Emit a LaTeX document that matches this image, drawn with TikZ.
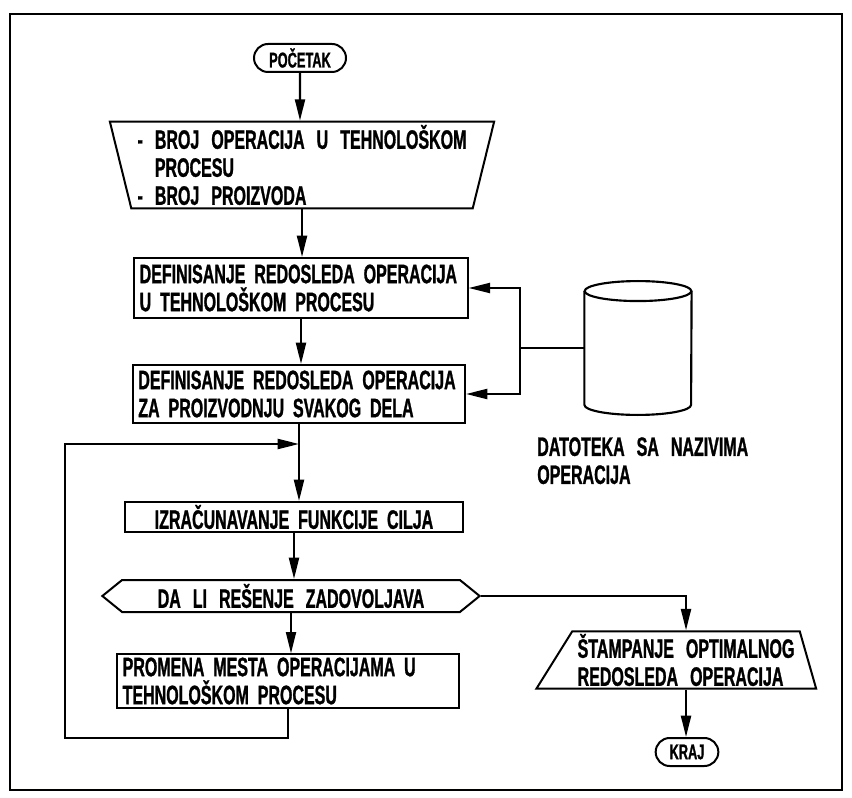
\documentclass[tikz,border=0pt]{standalone}
\usepackage{fontspec}
\setmainfont{Liberation Sans}[FakeStretch=0.6,WordSpace=2.7,FakeBold=1]
\usepackage{tikz}
\usetikzlibrary{positioning,arrows.meta,calc,shapes.geometric,shapes.misc,shapes.symbols}
\tikzset{
  wire/.style={line width=1.6pt},
  arr/.style={wire,-{Triangle[length=16pt,width=7.5pt]}},
  box/.style={draw,line width=1.5pt,font=\bfseries\fontsize{20}{21}\selectfont,
    inner xsep=4pt,inner ysep=2pt},
  procbox/.style={box,rectangle,align=left},
  termbox/.style={box,rounded rectangle,font=\bfseries\fontsize{16}{16}\selectfont,
    minimum height=21pt},
}
\begin{document}
\begin{tikzpicture}[x=0.75pt,y=-0.75pt]
  \useasboundingbox (0,0) rectangle (852,798);

  % frame
  \draw[line width=2.2pt] (10,14) rectangle (842,790);

  % main column
  \node[termbox,minimum width=77pt] (start) at (300,58) {POČETAK};
  \node[box,trapezium,shape border rotate=180,trapezium angle=76,
    trapezium stretches=true,minimum width=289pt,minimum height=65pt,align=left]
    (input) at (302,165)
    {- BROJ OPERACIJA U TEHNOLOŠKOM\\\hphantom{-}\ PROCESU\\- BROJ PROIZVODA};
  \node[procbox,text width=242pt,minimum height=45pt] (def1) at (301,288)
    {DEFINISANJE REDOSLEDA OPERACIJA\\U TEHNOLOŠKOM PROCESU};
  \node[procbox,text width=241pt,minimum height=43.5pt] (def2) at (299,394)
    {DEFINISANJE REDOSLEDA OPERACIJA\\ZA PROIZVODNJU SVAKOG DELA};
  \node[box,rectangle,text width=245pt,align=center,minimum height=22.5pt] (izr)
    at (294,517) {IZRAČUNAVANJE FUNKCIJE CILJA};
  \node[box,signal,signal to=west and east,signal pointer angle=78,
    minimum width=283pt,minimum height=24pt] (dec) at (291,596)
    {DA LI REŠENJE ZADOVOLJAVA};
  \node[procbox,text width=248pt,minimum height=40pt] (prom) at (288,681)
    {PROMENA MESTA OPERACIJAMA U\\TEHNOLOŠKOM PROCESU};

  % right branch
  \node[box,trapezium,trapezium left angle=58,trapezium right angle=74,
    trapezium stretches=true,minimum width=186pt,minimum height=40pt,align=left]
    (stamp) at (686,660) {ŠTAMPANJE OPTIMALNOG\\REDOSLEDA OPERACIJA};
  \node[termbox,minimum width=55pt] (kraj) at (687,752) {KRAJ};

  % data file
  \node[rectangle,minimum width=80pt,minimum height=100pt,inner sep=0pt] (db)
    at (638,348) {};
  \draw[wire] ($(db.north)+(0,10)$) ellipse [x radius=40pt,y radius=7.5pt];
  \draw[wire] ($(db.north west)+(0,10)$) -- ($(db.south west)+(0,-10)$)
    arc[start angle=180,end angle=360,x radius=40pt,y radius=7.5pt]
    -- ($(db.north east)+(0,10)$);
  \node[font=\bfseries\fontsize{20}{21}\selectfont,align=left,anchor=north west,
    inner sep=0pt] (dblabel) at (537,437) {DATOTEKA SA NAZIVIMA\\OPERACIJA};
  \coordinate (bus) at (520,348);

  % connectors
  \draw[arr] (start) -- (start |- input.north);
  \draw[arr] (input.south) -- (input.south |- def1.north);
  \draw[arr] (def1.south) -- (def1.south |- def2.north);
  \draw[arr] (def2.south) -- (def2.south |- izr.north);
  \draw[arr] (izr.south) -- (izr.south |- dec.north);
  \draw[arr] (dec.south) -- (dec.south |- prom.north);
  \draw[arr] (dec.east) -| (stamp.north);
  \draw[arr] (stamp.south) -- (stamp.south |- kraj.north);

  \draw[wire] (db.west) -- (bus);
  \draw[arr] (bus) |- (def1.east);
  \draw[arr] (bus) |- (def2.east);

  % loop back
  \coordinate (loopa) at (65,738);
  \coordinate (join) at (def2.south |- 0,444);
  \draw[arr] (prom.south) |- (loopa) |- (join);

\end{tikzpicture}
\end{document}
